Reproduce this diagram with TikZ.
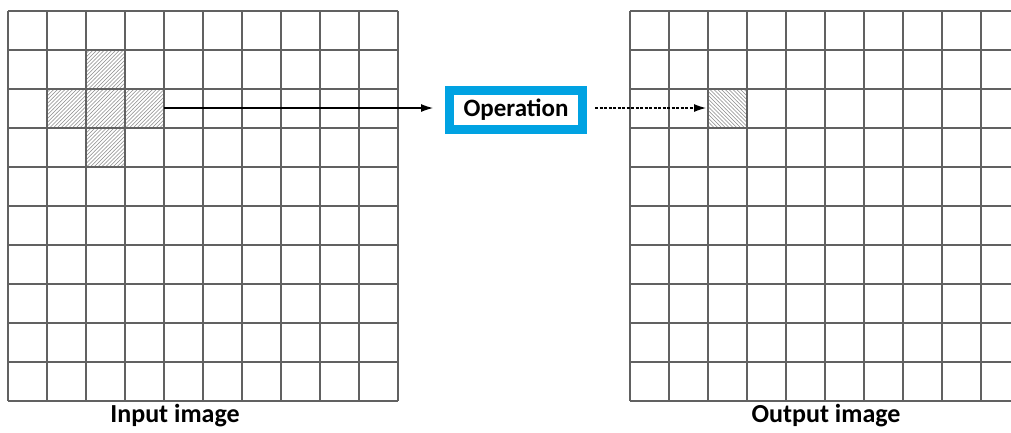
\documentclass[tikz,border=0pt]{standalone}
\usepackage{fontspec}
\setmainfont{Carlito}
\usetikzlibrary{patterns,arrows.meta}
\definecolor{opblue}{HTML}{00A2E2}
% sparse diagonal hatching
\pgfdeclarepatternformonly{hatchNE}{\pgfqpoint{-1pt}{-1pt}}{\pgfqpoint{5pt}{5pt}}{\pgfqpoint{3.8pt}{3.8pt}}{%
  \pgfsetlinewidth{0.55pt}%
  \pgfpathmoveto{\pgfqpoint{-0.1pt}{-0.1pt}}\pgfpathlineto{\pgfqpoint{3.9pt}{3.9pt}}\pgfusepath{stroke}}
\pgfdeclarepatternformonly{hatchNW}{\pgfqpoint{-1pt}{-1pt}}{\pgfqpoint{5pt}{5pt}}{\pgfqpoint{3.8pt}{3.8pt}}{%
  \pgfsetlinewidth{0.55pt}%
  \pgfpathmoveto{\pgfqpoint{-0.1pt}{3.9pt}}\pgfpathlineto{\pgfqpoint{3.9pt}{-0.1pt}}\pgfusepath{stroke}}
\tikzset{
  gridline/.style={draw=black!62, line width=1.6pt},
  cellNE/.style={minimum size=39pt, inner sep=0pt, outer sep=0pt,
                 pattern=hatchNE, pattern color=black!45},
  cellNW/.style={minimum size=39pt, inner sep=0pt, outer sep=0pt,
                 pattern=hatchNW, pattern color=black!45},
  opbox/.style={draw=opblue, line width=9pt, fill=white,
                minimum width=133pt, minimum height=39pt, inner sep=0pt,
                font=\bfseries\fontsize{25}{28}\selectfont},
  label/.style={font=\bfseries\fontsize{26}{30}\selectfont, anchor=base, inner sep=0pt},
  flow/.style={-{Latex[length=12pt,width=8pt]}, line width=1.1pt, black},
}
\begin{document}
\begin{tikzpicture}[x=1pt,y=-1pt]
\useasboundingbox (0,0) rectangle (1011,432);
\fill[white] (0,0) rectangle (1011,432);

% cross-shaped neighbourhood in the input grid
\node[cellNE] (nN) at (105.5,69.5) {};
\node[cellNE] (nW) at (66.5,108.5) {};
\node[cellNE] (nC) at (105.5,108.5) {};
\node[cellNE] (nE) at (144.5,108.5) {};
\node[cellNE] (nS) at (105.5,147.5) {};

% resulting pixel in the output grid
\node[cellNW] (outcell) at (727.5,108.5) {};

% input grid 10 x 10
\foreach \i in {0,...,10} {
  \draw[gridline] (8+39*\i,11) -- (8+39*\i,401);
  \draw[gridline] (8,11+39*\i) -- (398,11+39*\i);
}

% output grid, running off the right edge
\begin{scope}
\clip (0,0) rectangle (1011,432);
\foreach \i in {0,...,10} {
  \draw[gridline] (630+39*\i,11) -- (630+39*\i,401);
  \draw[gridline] (630,11+39*\i) -- (1020,11+39*\i);
}
\end{scope}

% operation box
\node[opbox] (op) at (516,110) {Operation};

% connectors
\coordinate (src) at (164,108);
\draw[flow, shorten >=12pt] (src) -- (op.west |- src);
\draw[flow, dashed, dash pattern=on 3pt off 1.5pt, shorten <=8pt, shorten >=2pt]
  (op.east |- src) -- (outcell.west |- src);

% captions
\node[label] (inlab) at (175,422) {Input image};
\node[label] (outlab) at (826,422) {Output image};
\end{tikzpicture}
\end{document}
